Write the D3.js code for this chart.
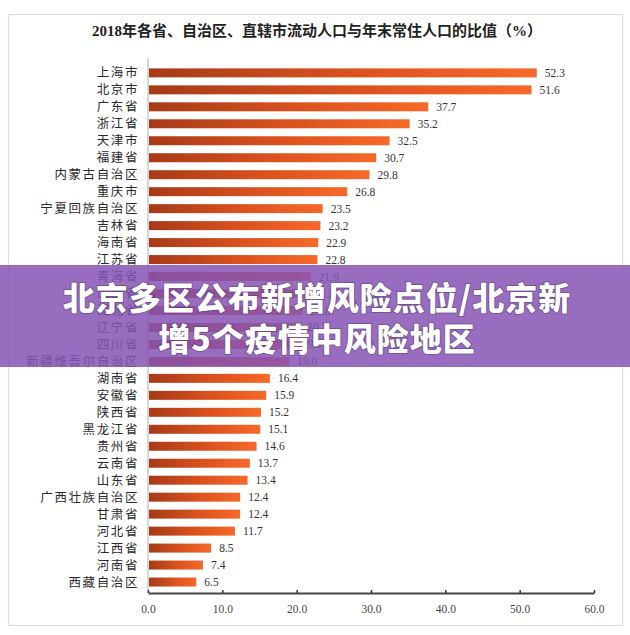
<!DOCTYPE html>
<html>
<head>
<meta charset="utf-8">
<script src="https://cdn.jsdelivr.net/npm/d3@7"></script>
<style>
    html, body { margin: 0; padding: 0; background: #fff; }
    svg { display: block; }
    .title { font-family: "Liberation Serif", "Noto Sans CJK SC", serif; font-weight: bold; font-size: 15px; fill: #222; }
    .cat-label { font-family: "Liberation Serif", "Noto Sans CJK SC", serif; font-size: 12.5px; fill: #2a2a2a; letter-spacing: 1.6px; }
    .val-label { font-family: "Liberation Serif", serif; font-size: 11.5px; fill: #333; }
    .tick-label { font-family: "Liberation Serif", serif; font-size: 11.5px; fill: #444; }
    .banner-text { font-family: "Noto Sans CJK SC", sans-serif; font-weight: 900; font-size: 32px; fill: #fff; letter-spacing: 1px; }
</style>
</head>
<body>
<svg id="chart" width="630" height="635"></svg>
<script>
// ===== Data =====
const TITLE = '2018年各省、自治区、直辖市流动人口与年末常住人口的比值（%）';

const provinces = [
    '上海市', '北京市', '广东省', '浙江省', '天津市', '福建省', '内蒙古自治区',
    '重庆市', '宁夏回族自治区', '吉林省', '海南省', '江苏省', '青海省', '山西省',
    '湖北省', '辽宁省', '四川省', '新疆维吾尔自治区', '湖南省', '安徽省', '陕西省',
    '黑龙江省', '贵州省', '云南省', '山东省', '广西壮族自治区', '甘肃省', '河北省',
    '江西省', '河南省', '西藏自治区'
];

const ratios = [
    52.3, 51.6, 37.7, 35.2, 32.5, 30.7, 29.8,
    26.8, 23.5, 23.2, 22.9, 22.8, 21.9, 21.2,
    20.8, 20.3, 19.6, 19.0, 16.4, 15.9, 15.2,
    15.1, 14.6, 13.7, 13.4, 12.4, 12.4, 11.7,
    8.5, 7.4, 6.5
];

const xTicks = [0, 10, 20, 30, 40, 50, 60];

const bannerLines = ['北京多区公布新增风险点位/北京新', '增5个疫情中风险地区'];

// ===== Setup =====
const svg = d3.select('#chart');
const data = provinces.map((p, i) => ({ name: p, value: ratios[i] }));

// frame
svg.append('rect')
    .attr('x', 8.5).attr('y', 14.5)
    .attr('width', 614).attr('height', 611)
    .attr('fill', '#fff')
    .attr('stroke', '#dcdcdc')
    .attr('stroke-width', 1.2);

// gradient for bars
const defs = svg.append('defs');
const grad = defs.append('linearGradient')
    .attr('id', 'barGrad')
    .attr('x1', '0%').attr('x2', '100%')
    .attr('y1', '0%').attr('y2', '0%');
grad.append('stop').attr('offset', '0%').attr('stop-color', '#a63a18');
grad.append('stop').attr('offset', '55%').attr('stop-color', '#dc521e');
grad.append('stop').attr('offset', '100%').attr('stop-color', '#f6692a');

// title
svg.append('text')
    .attr('class', 'title')
    .attr('x', 317)
    .attr('y', 36)
    .attr('text-anchor', 'middle')
    .text(TITLE);

// ===== Scales =====
const x = d3.scaleLinear().domain([0, 60]).range([148, 594]);
const y = d3.scaleBand()
    .domain(provinces)
    .range([60.4, 594.5])
    .padding(0.47);

// vertical axis line
svg.append('line')
    .attr('x1', x(0)).attr('x2', x(0))
    .attr('y1', 58).attr('y2', 593)
    .attr('stroke', '#bbb')
    .attr('stroke-width', 1.2);

// bars
svg.selectAll('.bar')
    .data(data)
    .enter()
    .append('rect')
    .attr('class', 'bar')
    .attr('x', x(0) + 1)
    .attr('y', d => y(d.name))
    .attr('width', d => x(d.value) - x(0) - 1)
    .attr('height', y.bandwidth())
    .attr('fill', 'url(#barGrad)');

// value labels
svg.selectAll('.val-label')
    .data(data)
    .enter()
    .append('text')
    .attr('class', 'val-label')
    .attr('x', d => x(d.value) + 8)
    .attr('y', d => y(d.name) + y.bandwidth() / 2)
    .attr('dy', '0.35em')
    .text(d => d.value.toFixed(1));

// category labels
svg.selectAll('.cat-label')
    .data(data)
    .enter()
    .append('text')
    .attr('class', 'cat-label')
    .attr('x', 139)
    .attr('y', d => y(d.name) + y.bandwidth() / 2)
    .attr('dy', '0.36em')
    .attr('text-anchor', 'end')
    .text(d => d.name);

// x axis
const xAxis = svg.append('g')
    .attr('transform', 'translate(0,593)')
    .call(d3.axisBottom(x).tickValues(xTicks).tickSize(-3).tickSizeOuter(0).tickFormat(d => d.toFixed(1)));
xAxis.select('.domain').attr('stroke', '#444').attr('stroke-width', 1.8);
xAxis.selectAll('.tick line').attr('stroke', '#333').attr('stroke-width', 1.5);
xAxis.selectAll('.tick text')
    .attr('class', 'tick-label')
    .attr('y', 12)
    .attr('dy', '0.71em');

// ===== Banner overlay =====
svg.append('rect')
    .attr('x', 0).attr('y', 265)
    .attr('width', 630).attr('height', 102)
    .attr('fill', 'rgba(134, 84, 180, 0.85)');

svg.selectAll('.banner-text')
    .data(bannerLines)
    .enter()
    .append('text')
    .attr('class', 'banner-text')
    .attr('x', 317)
    .attr('y', (d, i) => 298 + i * 41)
    .attr('dy', '0.36em')
    .attr('text-anchor', 'middle')
    .style('paint-order', 'stroke')
    .style('stroke', 'rgba(60,30,80,0.35)')
    .style('stroke-width', '2px')
    .text(d => d);
</script>
</body>
</html>
